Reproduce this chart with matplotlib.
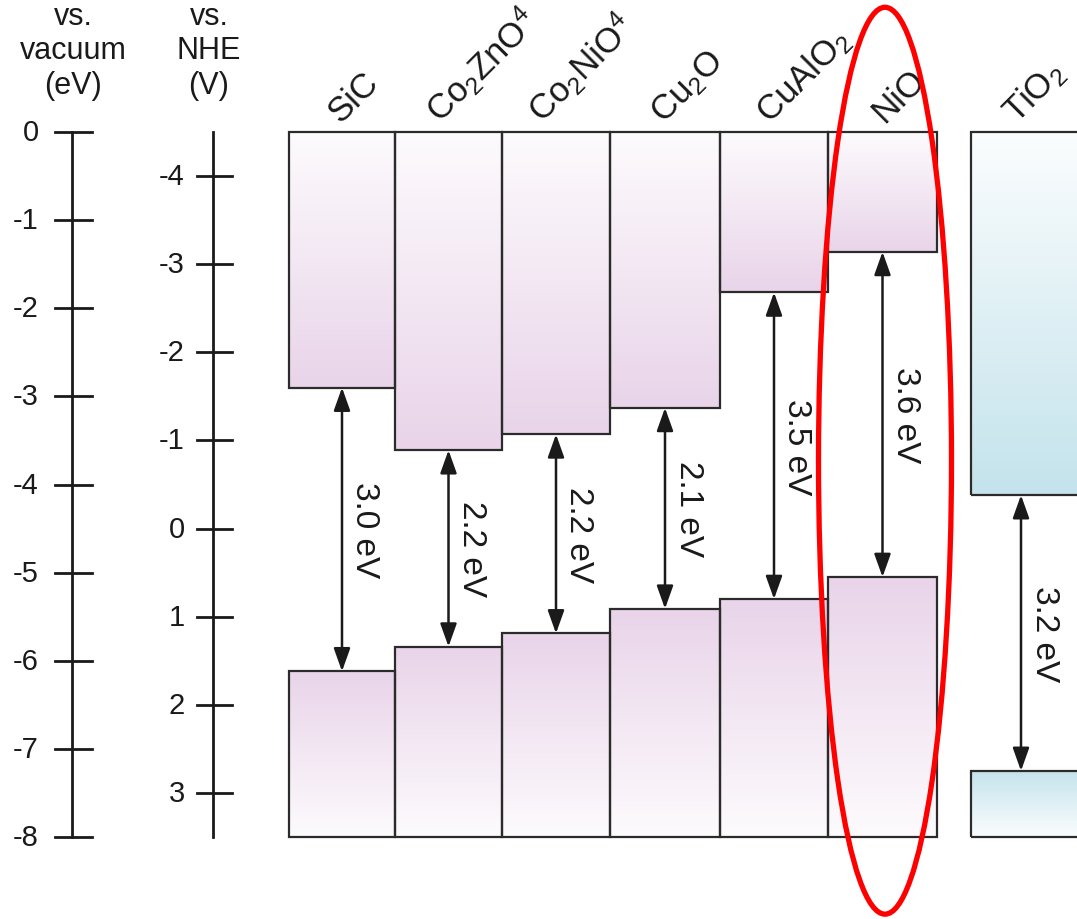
import matplotlib
matplotlib.use('Agg')
import matplotlib.pyplot as plt
import numpy as np
from matplotlib.colors import LinearSegmentedColormap
from matplotlib.patches import Rectangle, Ellipse

plt.rcParams['font.family'] = ['Liberation Sans', 'DejaVu Sans']
plt.rcParams['mathtext.fontset'] = 'custom'
plt.rcParams['mathtext.rm'] = 'Liberation Sans'
plt.rcParams['mathtext.it'] = 'Liberation Sans'

# band edges vs. vacuum (eV)
materials = ['SiC', r'Co$_2$ZnO$^4$', r'Co$_2$NiO$^4$', r'Cu$_2$O', r'CuAlO$_2$', 'NiO', r'TiO$_2$']
cb = [-2.90, -3.61, -3.43, -3.13, -1.82, -1.36, -4.12]
vb = [-6.12, -5.84, -5.69, -5.41, -5.30, -5.05, -7.25]
gaps = ['3.0 eV', '2.2 eV', '2.2 eV', '2.1 eV', '3.5 eV', '3.6 eV', '3.2 eV']
vac_ticks = [0, -1, -2, -3, -4, -5, -6, -7, -8]
nhe_ticks = [-4, -3, -2, -1, 0, 1, 2, 3]

# layout (horizontal positions in pixel-like units)
lefts = [289, 395, 502, 610, 720, 828, 971]
rights = [395, 502, 610, 720, 828, 937, 1090]
label_dx = [-2, -8, -14, -1, -4, 2, -4]
e_top, e_bot = 0, -8

pink = LinearSegmentedColormap.from_list('pk', ['#fdfbfd', '#e9d4e9'])
blue = LinearSegmentedColormap.from_list('bl', ['#fbfdfe', '#c4e3ec'])

fig = plt.figure(figsize=(10.77, 9.2), dpi=100)
ax = fig.add_axes([0, 0, 1, 1])
ax.axis('off')

grad = np.linspace(0, 1, 256).reshape(-1, 1)
for i, m in enumerate(materials):
    cm = blue if m.startswith('TiO') else pink
    x0, x1 = lefts[i], rights[i]
    # conduction band block: white at top -> colour at bottom
    ax.imshow(grad, cmap=cm, extent=(x0, x1, cb[i], e_top), origin='upper',
              aspect='auto', interpolation='bilinear', zorder=1)
    ax.add_patch(Rectangle((x0, cb[i]), x1 - x0, e_top - cb[i], fill=False,
                           ec='#2b2b2b', lw=1.6, zorder=2))
    # valence band block: colour at top -> white at bottom
    ax.imshow(grad, cmap=cm, extent=(x0, x1, e_bot, vb[i]), origin='lower',
              aspect='auto', interpolation='bilinear', zorder=1)
    ax.add_patch(Rectangle((x0, e_bot), x1 - x0, vb[i] - e_bot, fill=False,
                           ec='#2b2b2b', lw=1.6, zorder=2))
    xc = (x0 + x1) / 2 if i < 6 else 1021
    ax.annotate('', xy=(xc, vb[i]), xytext=(xc, cb[i]),
                arrowprops=dict(arrowstyle='<|-|>,head_length=0.7,head_width=0.25',
                                color='#1a1a1a', lw=1.8, mutation_scale=20,
                                shrinkA=0, shrinkB=0), zorder=3)
    ax.text(xc + 23, (cb[i] + vb[i]) / 2, gaps[i], rotation=270, ha='center',
            va='center', fontsize=24, color='#1a1a1a')
    ax.text(xc + label_dx[i], 0.10, m, rotation=45, rotation_mode='anchor',
            ha='left', va='baseline', fontsize=25, color='#1a1a1a')

# vacuum axis
ax.plot([72, 72], [e_top, e_bot], color='#1a1a1a', lw=2)
for t in vac_ticks:
    ax.plot([55, 92], [t, t], color='#1a1a1a', lw=2)
    ax.text(39, t, str(t), ha='right', va='center', fontsize=21, color='#1a1a1a')

# NHE axis
ax.plot([213, 213], [e_top, e_bot], color='#1a1a1a', lw=2)
for t in nhe_ticks:
    e = -4.5 - t
    ax.plot([197, 232], [e, e], color='#1a1a1a', lw=2)
    ax.text(185, e, str(t), ha='right', va='center', fontsize=21, color='#1a1a1a')

ax.text(73, 1.49, 'vs.\nvacuum\n(eV)', ha='center', va='top', fontsize=22,
        linespacing=1.2, color='#1a1a1a')
ax.text(209, 1.49, 'vs.\nNHE\n(V)', ha='center', va='top', fontsize=22,
        linespacing=1.2, color='#1a1a1a')

# highlight NiO
ax.add_patch(Ellipse((885, -3.73), 133, 10.29, fill=False, ec='#ff0000', lw=3.8, zorder=5))

ax.set_xlim(0, 1077)
ax.set_ylim(-8.93, 1.509)

fig.savefig('out.png', dpi=100, facecolor='white')
